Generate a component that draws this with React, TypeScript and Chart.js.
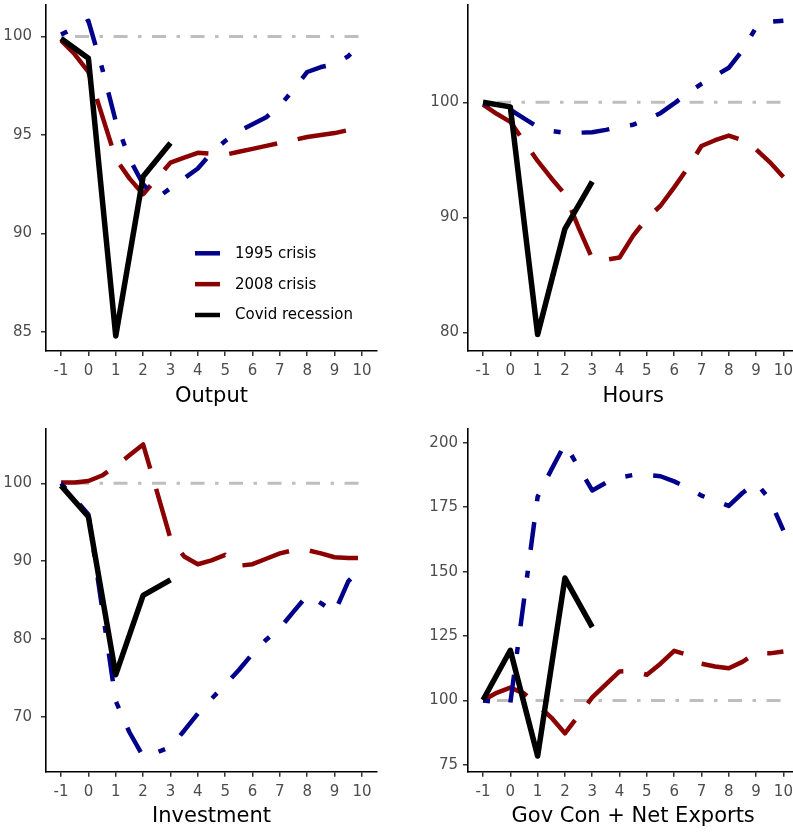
import React, { useEffect, useRef } from "react";
import { Chart, registerables } from "chart.js";

Chart.register(...registerables);

// ---------- data ----------
const halfSteps = [-1, -0.5, 0, 0.5, 1, 1.5, 2, 2.5, 3, 3.5, 4, 4.5, 5, 5.5, 6, 6.5, 7, 7.5, 8, 8.5, 9, 9.5, 10];
const covidSteps = [-1, 0, 1, 2, 3];
const refSteps = [-1, 10];
const refValues = [100, 100];
const xTickValues = [-1, 0, 1, 2, 3, 4, 5, 6, 7, 8, 9, 10];

const seriesNames = ["1995 crisis", "2008 crisis", "Covid recession"];
const panelTitles = ["Output", "Hours", "Investment", "Gov Con + Net Exports"];

const output1995 = [100.1, 100.45, 100.8, 98.4, 95.7, 93.8, 92.5, 91.8, 92.3, 92.8, 93.3, 94.1, 94.7, 95.2, 95.55, 95.9, 96.5, 97.3, 98.2, 98.45, 98.6, 99.0, 99.7];
const output2008 = [99.8, 99.1, 98.2, 96.0, 93.8, 92.8, 92.0, 92.8, 93.6, 93.85, 94.1, 94.05, 94.0, 94.15, 94.3, 94.45, 94.6, 94.75, 94.9, 95.0, 95.1, 95.25, 95.4];
const outputCovid = [99.9, 98.9, 84.8, 92.9, 94.6];

const hours1995 = [99.9, 99.65, 99.35, 98.6, 97.85, 97.5, 97.35, 97.35, 97.4, 97.6, 97.85, 98.05, 98.5, 99.05, 99.9, 100.8, 101.6, 102.3, 103.0, 104.5, 106.5, 107.0, 107.1];
const hours2008 = [99.8, 99.0, 98.3, 96.6, 94.9, 93.4, 92.0, 89.1, 86.4, 86.3, 86.5, 88.4, 89.9, 91.0, 92.6, 94.3, 96.2, 96.7, 97.1, 96.7, 95.9, 94.8, 93.5];
const hoursCovid = [100.0, 99.6, 79.8, 89.0, 93.1];

const invest1995 = [100.0, 98.0, 96.0, 84.0, 72.0, 68.0, 64.9, 65.4, 66.1, 68.2, 70.4, 72.3, 74.1, 76.0, 78.1, 79.9, 81.4, 83.5, 85.6, 84.6, 83.4, 87.4, 89.2];
const invest2008 = [100.1, 100.1, 100.3, 101.0, 102.2, 103.6, 105.0, 99.0, 92.9, 90.6, 89.6, 90.1, 90.8, 89.4, 89.6, 90.3, 91.0, 91.4, 91.4, 91.0, 90.5, 90.4, 90.4];
const investCovid = [99.7, 95.7, 75.4, 85.6, 87.6];

const gov1995 = [100.0, 99.5, 99.0, 139.0, 179.0, 189.5, 199.5, 190.5, 181.5, 184.5, 186.5, 187.5, 187.5, 187.0, 185.0, 182.5, 179.5, 177.5, 175.5, 180.5, 184.5, 178.0, 166.0];
const gov2008 = [100.0, 103.0, 105.0, 102.8, 98.2, 93.4, 87.3, 94.2, 101.2, 106.3, 111.3, 111.4, 110.0, 114.3, 119.3, 117.7, 114.3, 113.2, 112.5, 115.0, 118.4, 118.3, 119.0];
const govCovid = [100.2, 119.5, 78.5, 147.5, 128.5];

const outputTicks = [85, 90, 95, 100];
const hoursTicks = [80, 90, 100];
const investTicks = [70, 80, 90, 100];
const govTicks = [75, 100, 125, 150, 175, 200];

// ---------- styling ----------
const COLORS = ["#00008B", "#8B0000", "#000000"];
const FONT = "'DejaVu Sans', 'Liberation Sans', sans-serif";

type Panel = {
  title: string;
  s1995: number[];
  s2008: number[];
  covid: number[];
  yTicks: number[];
  yMin: number;
  yMax: number;
  left: number;
  top: number;
  width: number;
  height: number;
  padTop: number;
  padRight: number;
  yAxisWidth: number;
  xAxisHeight: number;
  labelPad: number;
  legend: boolean;
};

const panels: Panel[] = [
  { title: panelTitles[0], s1995: output1995, s2008: output2008, covid: outputCovid, yTicks: outputTicks, yMin: 84.04, yMax: 101.6,
    left: 0, top: 0, width: 397, height: 420, padTop: 5, padRight: 20, yAxisWidth: 46, xAxisHeight: 69, labelPad: 9, legend: true },
  { title: panelTitles[1], s1995: hours1995, s2008: hours2008, covid: hoursCovid, yTicks: hoursTicks, yMin: 78.37, yMax: 108.46,
    left: 400, top: 0, width: 400, height: 420, padTop: 5, padRight: 1.6, yAxisWidth: 68, xAxisHeight: 69, labelPad: 4, legend: false },
  { title: panelTitles[2], s1995: invest1995, s2008: invest2008, covid: investCovid, yTicks: investTicks, yMin: 62.93, yMax: 107.07,
    left: 0, top: 420, width: 397, height: 420, padTop: 8.3, padRight: 20, yAxisWidth: 46, xAxisHeight: 68.3, labelPad: 9, legend: false },
  { title: panelTitles[3], s1995: gov1995, s2008: gov2008, covid: govCovid, yTicks: govTicks, yMin: 72.4, yMax: 205.6,
    left: 400, top: 420, width: 400, height: 420, padTop: 8.3, padRight: 1.6, yAxisWidth: 68, xAxisHeight: 68.3, labelPad: 5, legend: false },
];

function pts(xs: number[], ys: number[]) {
  return xs.map((x, i) => ({ x, y: ys[i] }));
}

const legendPlugin = {
  id: "panelLegend",
  afterDatasetsDraw(chart: any, _args: any, opts: any) {
    if (!opts || !opts.show) return;
    const ctx = chart.ctx as CanvasRenderingContext2D;
    const area = chart.chartArea;
    const keyLeft = area.left + 149;
    const keyLen = 25;
    const firstRow = area.top + 248.3;
    const rowGap = 30.85;
    ctx.save();
    ctx.font = `15px ${FONT}`;
    ctx.textBaseline = "middle";
    ctx.textAlign = "left";
    seriesNames.forEach((name, i) => {
      const y = firstRow + i * rowGap;
      ctx.strokeStyle = COLORS[i];
      ctx.lineWidth = 4.5;
      ctx.lineCap = "butt";
      ctx.setLineDash([]);
      ctx.beginPath();
      ctx.moveTo(keyLeft, y);
      ctx.lineTo(keyLeft + keyLen, y);
      ctx.stroke();
      ctx.fillStyle = "#000000";
      ctx.fillText(name, keyLeft + keyLen + 15, y + 0.5);
    });
    ctx.restore();
  },
};

function PanelChart({ p }: { p: Panel }) {
  const ref = useRef<HTMLCanvasElement | null>(null);
  useEffect(() => {
    if (!ref.current) return;
    const tickFont = { family: FONT, size: 15 };
    const gridOpts = { drawOnChartArea: false, drawTicks: true, tickLength: 5, color: "#333333", lineWidth: 1.5 };
    const borderOpts = { display: true, color: "#000000", width: 1.6 };
    const chart = new Chart(ref.current, {
      type: "line",
      data: {
        datasets: [
          { label: "ref", data: pts(refSteps, refValues), borderColor: "#BEBEBE", borderWidth: 3, borderDash: [3.5, 10.5, 14, 10.5], pointRadius: 0, order: 4 },
          { label: seriesNames[0], data: pts(halfSteps, p.s1995), borderColor: COLORS[0], borderWidth: 4.5, borderDash: [7, 21, 28, 21], pointRadius: 0, order: 2 },
          { label: seriesNames[1], data: pts(halfSteps, p.s2008), borderColor: COLORS[1], borderWidth: 4.5, borderDash: [49, 21], pointRadius: 0, order: 3 },
          { label: seriesNames[2], data: pts(covidSteps, p.covid), borderColor: COLORS[2], borderWidth: 5.5, pointRadius: 0, order: 1 },
        ],
      },
      options: {
        responsive: false,
        animation: false,
        events: [],
        layout: { padding: { left: 0, top: p.padTop, right: p.padRight, bottom: 0 } },
        elements: { line: { tension: 0, borderCapStyle: "butt", borderJoinStyle: "round", fill: false } },
        plugins: {
          legend: { display: false },
          tooltip: { enabled: false },
          panelLegend: { show: p.legend },
        } as any,
        scales: {
          x: {
            type: "linear",
            min: -1.55,
            max: 10.55,
            afterBuildTicks: (s: any) => { s.ticks = xTickValues.map((v) => ({ value: v })); },
            afterFit: (s: any) => { s.height = p.xAxisHeight; s.paddingLeft = 0; s.paddingRight = 0; },
            ticks: { font: tickFont, color: "#4D4D4D", padding: 6, maxRotation: 0, autoSkip: false },
            grid: gridOpts,
            border: borderOpts,
            title: { display: true, text: p.title, font: { family: FONT, size: 21 }, color: "#000000", padding: { top: 0, bottom: 10.7 } },
          },
          y: {
            type: "linear",
            min: p.yMin,
            max: p.yMax,
            afterBuildTicks: (s: any) => { s.ticks = p.yTicks.map((v) => ({ value: v })); },
            afterFit: (s: any) => { s.width = p.yAxisWidth; s.paddingTop = 0; s.paddingBottom = 0; },
            ticks: { font: tickFont, color: "#4D4D4D", padding: p.labelPad },
            grid: gridOpts,
            border: borderOpts,
          },
        },
      } as any,
      plugins: [legendPlugin],
    });
    return () => chart.destroy();
  }, [p]);
  return (
    <canvas
      ref={ref}
      width={p.width}
      height={p.height}
      style={{ position: "absolute", left: p.left, top: p.top, width: p.width, height: p.height }}
    />
  );
}

export default function App() {
  useEffect(() => {
    document.body.style.margin = "0";
    document.body.style.overflow = "hidden";
  }, []);
  return (
    <div style={{ position: "absolute", left: 0, top: 0, width: 793, height: 834, overflow: "hidden", background: "#ffffff" }}>
      {panels.map((p) => (
        <PanelChart key={p.title} p={p} />
      ))}
    </div>
  );
}
